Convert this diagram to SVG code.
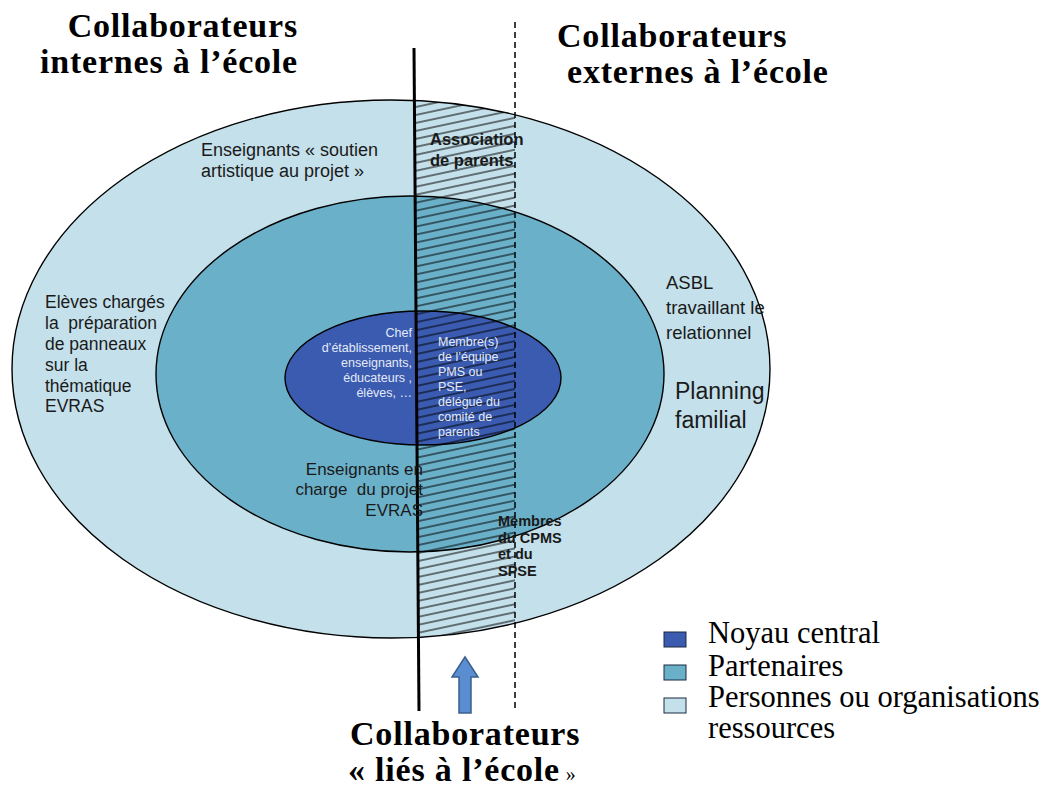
<svg xmlns="http://www.w3.org/2000/svg" width="1050" height="787" viewBox="0 0 1050 787">
<style>
.ring{stroke:#000;stroke-width:1.4}
.outer{fill:#c4e0ea}
.mid{fill:#6bb0c9}
.core{fill:#3a5bb0}
.title{font-family:"Liberation Serif","Times New Roman",serif;font-weight:bold;font-size:34px;letter-spacing:0.8px;fill:#000}
.leg{font-family:"Liberation Serif","Times New Roman",serif;font-size:30.5px;fill:#000}
.lbl{font-family:"Liberation Sans",Arial,sans-serif;fill:#1a1a1a}
.bold{font-weight:bold}
.wht{font-family:"Liberation Sans",Arial,sans-serif;font-size:12.5px;fill:#e4eaf6}
.sq{stroke:#1a2a40;stroke-width:1}
</style>
<defs>
<pattern id="hatch" patternUnits="userSpaceOnUse" width="12" height="7.8" patternTransform="rotate(-12)">
<line x1="-2" y1="3.9" x2="14" y2="3.9" stroke="#000" stroke-width="1"/>
</pattern>
<clipPath id="outerClip"><ellipse cx="391" cy="369" rx="379" ry="269"/></clipPath>
</defs>

<g id="ring-outer"><ellipse class="ring outer" cx="391" cy="369" rx="379" ry="269"/></g>
<g id="ring-middle"><ellipse class="ring mid" cx="410" cy="374" rx="254" ry="178"/></g>
<g id="ring-core"><ellipse class="ring core" cx="423" cy="378" rx="138" ry="67"/></g>

<g id="hatch-zone" clip-path="url(#outerClip)">
<polygon points="414,90 515,90 515,650 419,650" fill="url(#hatch)"/>
</g>

<g id="connectors">
<line x1="414" y1="48" x2="419" y2="711" stroke="#000" stroke-width="3"/>
<line x1="515" y1="22" x2="515" y2="710" stroke="#000" stroke-width="1.5" stroke-dasharray="6,4"/>
<path d="M459,713 L459,677 L452,677 L465,657 L478,677 L471,677 L471,713 Z" fill="#5a8ed0" stroke="#3a5f8f" stroke-width="1.5"/>
</g>

<g id="title-internes">
<text class="title" x="298" y="37" text-anchor="end">Collaborateurs</text>
<text class="title" x="298" y="73" text-anchor="end">internes à l’école</text>
</g>
<g id="title-externes">
<text class="title" x="557" y="47">Collaborateurs</text>
<text class="title" x="567" y="83">externes à l’école</text>
</g>
<g id="title-lies">
<text class="title" x="350" y="745">Collaborateurs</text>
<text class="title" x="348" y="781">« liés à l’école<tspan font-weight="normal" font-size="20px"> »</tspan></text>
</g>

<g id="label-soutien">
<text class="lbl" font-size="18" x="201" y="156">Enseignants « soutien</text>
<text class="lbl" font-size="18" x="201" y="177">artistique au projet »</text>
</g>
<g id="label-association">
<text class="lbl bold" font-size="16.5" x="430" y="145">Association</text>
<text class="lbl bold" font-size="16.5" x="430" y="166">de parents</text>
</g>
<g id="label-eleves">
<text class="lbl" font-size="17.5" x="45" y="308">Elèves chargés</text>
<text class="lbl" font-size="17.5" x="45" y="329" xml:space="preserve">la  préparation</text>
<text class="lbl" font-size="17.5" x="45" y="350">de panneaux</text>
<text class="lbl" font-size="17.5" x="45" y="371">sur la</text>
<text class="lbl" font-size="17.5" x="45" y="392">thématique</text>
<text class="lbl" font-size="17.5" x="45" y="412">EVRAS</text>
</g>
<g id="label-asbl">
<text class="lbl" font-size="18.5" x="666" y="289">ASBL</text>
<text class="lbl" font-size="18.5" x="666" y="314">travaillant le</text>
<text class="lbl" font-size="18.5" x="666" y="339">relationnel</text>
</g>
<g id="label-planning">
<text class="lbl" font-size="23" x="675" y="399">Planning</text>
<text class="lbl" font-size="23" x="675" y="428">familial</text>
</g>
<g id="label-charge">
<text class="lbl" font-size="17" x="423" y="475" text-anchor="end">Enseignants en</text>
<text class="lbl" font-size="17" x="423" y="495" text-anchor="end" xml:space="preserve">charge  du projet</text>
<text class="lbl" font-size="17" x="423" y="516" text-anchor="end">EVRAS</text>
</g>
<g id="label-cpms">
<text class="lbl bold" font-size="14.5" x="498" y="526">Membres</text>
<text class="lbl bold" font-size="14.5" x="498" y="543">du CPMS</text>
<text class="lbl bold" font-size="14.5" x="498" y="559">et du</text>
<text class="lbl bold" font-size="14.5" x="498" y="576">SPSE</text>
</g>
<g id="label-core-left">
<text class="wht" x="412" y="337" text-anchor="end">Chef</text>
<text class="wht" x="412" y="352" text-anchor="end">d’établissement,</text>
<text class="wht" x="412" y="367" text-anchor="end">enseignants,</text>
<text class="wht" x="412" y="382" text-anchor="end">éducateurs ,</text>
<text class="wht" x="412" y="397" text-anchor="end">élèves, …</text>
</g>
<g id="label-core-right">
<text class="wht" x="438" y="346">Membre(s)</text>
<text class="wht" x="438" y="361">de l’équipe</text>
<text class="wht" x="438" y="376">PMS ou</text>
<text class="wht" x="438" y="391">PSE,</text>
<text class="wht" x="438" y="406">délégué du</text>
<text class="wht" x="438" y="421">comité de</text>
<text class="wht" x="438" y="436">parents</text>
</g>

<g id="legend">
<rect class="sq" x="664" y="632" width="22" height="15" fill="#3a5bb0"/>
<text class="leg" x="708" y="643">Noyau central</text>
<rect class="sq" x="664" y="665" width="22" height="15" fill="#6bb0c9"/>
<text class="leg" x="708" y="676">Partenaires</text>
<rect class="sq" x="664" y="698" width="22" height="15" fill="#c4e0ea"/>
<text class="leg" x="708" y="707">Personnes ou organisations</text>
<text class="leg" x="708" y="738">ressources</text>
</g>
</svg>
